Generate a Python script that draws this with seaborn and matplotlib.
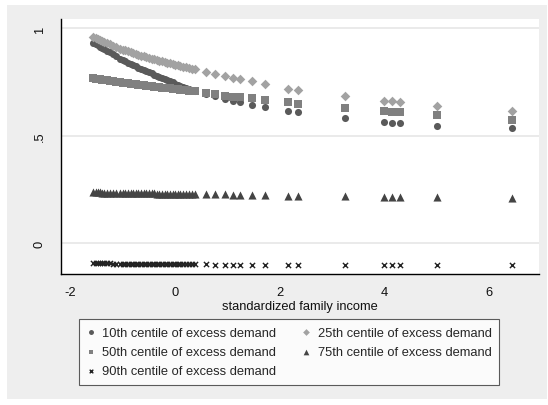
import matplotlib
matplotlib.use("Agg")
import matplotlib.pyplot as plt
from matplotlib.patches import Rectangle
import seaborn as sns
import pandas as pd

# standardized family income (x) shared by all centile series
income = [
    -1.56, -1.52, -1.48, -1.44, -1.40, -1.35, -1.30, -1.25, -1.18, -1.12,
    -1.05, -1.00, -0.95, -0.90, -0.85, -0.80, -0.75, -0.70, -0.65, -0.60,
    -0.55, -0.50, -0.45, -0.40, -0.35, -0.30, -0.25, -0.20, -0.15, -0.10,
    -0.05, 0.00, 0.05, 0.10, 0.15, 0.20, 0.26, 0.32, 0.38, 0.59,
    0.76, 0.95, 1.10, 1.24, 1.46, 1.72, 2.16, 2.35, 3.24, 3.98,
    4.14, 4.29, 5.00, 6.43,
]

p10 = [
    0.930, 0.925, 0.919, 0.914, 0.908, 0.901, 0.894, 0.887, 0.877, 0.868,
    0.858, 0.851, 0.845, 0.839, 0.833, 0.827, 0.822, 0.816, 0.811, 0.805,
    0.800, 0.794, 0.789, 0.783, 0.778, 0.772, 0.767, 0.762, 0.757, 0.752,
    0.747, 0.742, 0.737, 0.732, 0.727, 0.722, 0.716, 0.710, 0.705, 0.692,
    0.683, 0.670, 0.662, 0.654, 0.642, 0.631, 0.615, 0.608, 0.580, 0.564,
    0.558, 0.557, 0.546, 0.533,
]

p25 = [
    0.957, 0.953, 0.949, 0.945, 0.940, 0.935, 0.930, 0.925, 0.918, 0.911,
    0.904, 0.900, 0.896, 0.892, 0.888, 0.884, 0.880, 0.876, 0.872, 0.868,
    0.864, 0.861, 0.858, 0.855, 0.851, 0.848, 0.845, 0.842, 0.839, 0.836,
    0.833, 0.830, 0.827, 0.824, 0.821, 0.818, 0.815, 0.811, 0.808, 0.797,
    0.786, 0.775, 0.767, 0.763, 0.752, 0.740, 0.716, 0.713, 0.682, 0.662,
    0.659, 0.654, 0.639, 0.613,
]

p50 = [
    0.766, 0.765, 0.763, 0.762, 0.760, 0.758, 0.756, 0.754, 0.752, 0.750,
    0.748, 0.746, 0.745, 0.743, 0.741, 0.740, 0.738, 0.736, 0.735, 0.733,
    0.732, 0.730, 0.729, 0.727, 0.726, 0.724, 0.723, 0.721, 0.720, 0.719,
    0.717, 0.716, 0.715, 0.713, 0.712, 0.711, 0.709, 0.708, 0.706, 0.696,
    0.691, 0.685, 0.680, 0.678, 0.673, 0.665, 0.654, 0.648, 0.628, 0.614,
    0.611, 0.608, 0.595, 0.574,
]

p75 = [
    0.236, 0.236, 0.236, 0.236, 0.235, 0.235, 0.235, 0.235, 0.234, 0.234,
    0.234, 0.234, 0.233, 0.233, 0.233, 0.233, 0.232, 0.232, 0.232, 0.232,
    0.231, 0.231, 0.231, 0.231, 0.230, 0.230, 0.230, 0.230, 0.229, 0.229,
    0.229, 0.229, 0.229, 0.228, 0.228, 0.228, 0.228, 0.228, 0.228, 0.227,
    0.226, 0.226, 0.225, 0.225, 0.224, 0.223, 0.221, 0.221, 0.218, 0.216,
    0.215, 0.215, 0.213, 0.210,
]

p90 = [
    -0.095, -0.095, -0.095, -0.095, -0.095, -0.095, -0.095, -0.095, -0.096, -0.096,
    -0.096, -0.096, -0.096, -0.096, -0.096, -0.096, -0.097, -0.097, -0.097, -0.097,
    -0.097, -0.097, -0.097, -0.097, -0.098, -0.098, -0.098, -0.098, -0.098, -0.098,
    -0.098, -0.098, -0.098, -0.099, -0.099, -0.099, -0.099, -0.099, -0.099, -0.099,
    -0.100, -0.100, -0.100, -0.100, -0.100, -0.100, -0.101, -0.101, -0.102, -0.102,
    -0.102, -0.102, -0.103, -0.104,
]

labels = [
    "10th centile of excess demand",
    "25th centile of excess demand",
    "50th centile of excess demand",
    "75th centile of excess demand",
    "90th centile of excess demand",
]
series = [p10, p25, p50, p75, p90]
markers = ["o", "D", "s", "^", "x"]
colors = ["#5a5a5a", "#a2a2a2", "#808080", "#444444", "#222222"]
sizes = [26, 24, 26, 34, 14]

x_ticks = [-2, 0, 2, 4, 6]
y_ticks = [0, 0.5, 1]
y_tick_labels = ["0", ".5", "1"]

sns.set_style("white")
plt.rcParams["font.family"] = ["Liberation Sans", "DejaVu Sans"]
FS = 9.3

W, H = 548, 406
fig = plt.figure(figsize=(W / 100, H / 100), dpi=100, facecolor="white")
fig.patches.append(Rectangle((7 / W, 6 / H), 540 / W, 394 / H,
                             transform=fig.transFigure, facecolor="#eeeeee",
                             edgecolor="none", zorder=-10))
ax = fig.add_axes([61 / W, 131 / H, 478 / W, 255 / H])
ax.set_facecolor("white")

for vals, lab, m, c, s in zip(series, labels, markers, colors, sizes):
    df = pd.DataFrame({"income": income, "value": vals})
    if m == "x":
        sns.scatterplot(data=df, x="income", y="value", ax=ax, marker=m,
                        color=c, s=s, linewidth=1.0, label=lab, zorder=3)
    else:
        sns.scatterplot(data=df, x="income", y="value", ax=ax, marker=m,
                        color=c, s=s, linewidth=0, label=lab, zorder=3)

ax.set_xlim(-2.18, 6.95)
ax.set_ylim(-0.144, 1.042)
ax.set_xticks(x_ticks)
ax.set_xticklabels([str(t) for t in x_ticks])
ax.set_yticks(y_ticks)
ax.set_yticklabels(y_tick_labels, rotation=90, va="center")
ax.yaxis.grid(True, color="#e6e6e6", linewidth=1.2)
ax.xaxis.grid(False)
ax.set_axisbelow(True)

for side in ["top", "right"]:
    ax.spines[side].set_visible(False)
for side in ["left", "bottom"]:
    ax.spines[side].set_color("black")
    ax.spines[side].set_linewidth(1.0)

ax.tick_params(axis="both", direction="out", length=4, width=0.8,
               color="black", labelsize=FS, labelcolor="#111111")
ax.tick_params(axis="y", pad=7)
ax.tick_params(axis="x", pad=5)
ax.set_xlabel("standardized family income", fontsize=FS, labelpad=1,
              color="#111111")
ax.set_ylabel("")

handles, labs = ax.get_legend_handles_labels()
ax.get_legend().remove()
order = [0, 2, 4, 1, 3]
leg = fig.legend([handles[i] for i in order], [labs[i] for i in order],
                 ncol=2, loc="upper left",
                 bbox_to_anchor=(79 / W, 1 - 320 / H), borderaxespad=0,
                 frameon=True, fancybox=False, fontsize=FS,
                 handlelength=0.6, handletextpad=0.6, columnspacing=2.0,
                 labelspacing=0.55, borderpad=0.6, markerscale=0.7)
leg.get_frame().set_edgecolor("#333333")
leg.get_frame().set_linewidth(0.8)
leg.get_frame().set_facecolor("white")

fig.savefig("out.png", dpi=100, facecolor="white")
